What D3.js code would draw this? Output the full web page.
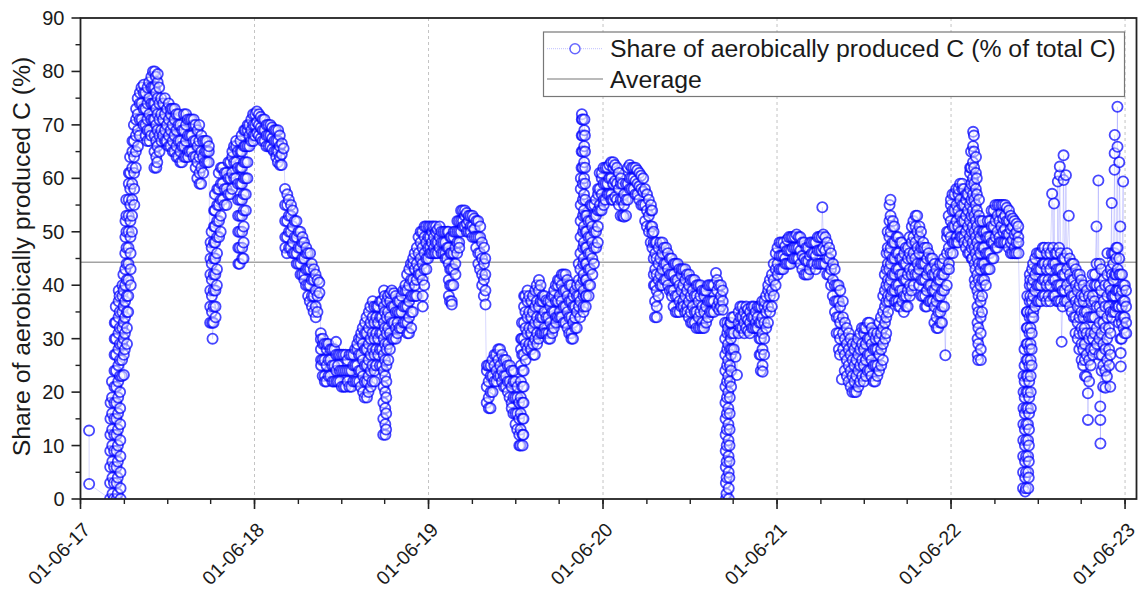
<!DOCTYPE html>
<html>
<head>
<meta charset="utf-8">
<script src="https://cdnjs.cloudflare.com/ajax/libs/d3/7.8.5/d3.min.js"></script>
<style>
  body { margin: 0; background: #fff; }
  text { font-family: "Liberation Sans", Arial, sans-serif; fill: #1a1a1a; }
</style>
</head>
<body>
<div id="chart"></div>
<script>
// days counted from 01-06-17; each entry = [day, readings of that day (%)]
const startDate = new Date(2017, 5, 1);
const endDate = new Date(2023, 5, 25);

const earlyPoints = [[18, [12.8, 2.8]]];

const season17 = [
  [62, [0,3,6,9,12,15,18]], [66, [22,19,16,13,10,7,4,1]], [70, [0,3,6,9,12,15,18,21,24,27,30,33]],
  [74, [36,33,30,27,24,21,18,15,12,9,6,3,0]], [78, [1,4,7,10,13,16,19,22,25,28,31,34,37,39]],
  [82, [38,35,32,29,26,23,20,17,14,11,8,5,2,0]], [87, [23,26,29,32,35,38,40]], [90, [42,39,36,33,30,27,23.2]],
  [93, [28,31,34,37,40,43,46,49,52]], [96, [56,53,50,47,44,41,38,35,32,29]], [100, [35,38,41,44,47,50,53,56,59,61]],
  [104, [64,61,58,55,52,49,46,43,40]], [108, [50,53,56,59,62,65,67]], [112, [70,67,64,61,58,55]],
  [116, [62,65,68,71,73]], [120, [75,72,69,66]], [124, [68,71,74,76]], [128, [77,74,71]],
  [132, [70,73,76,77.5]], [136, [76,73,70,68]], [140, [67,69,71,74,77]], [144, [78,75,72,69,67]],
  [148, [68,71,74,77,79]], [152, [80,77,74,71]], [155, [62,65,68,71,74,77,80]], [158, [79,76,73,70,67,64,62]],
  [161, [63,66,69,72,75,78,79.5]], [165, [77,74,71,68,65]], [169, [75,72,69,67]], [173, [68,71,74]],
  [177, [75,72,69,67]], [181, [67,70,73]], [185, [74,71,68,66]], [189, [66,69,72,73]], [193, [73,70,67,65]],
  [197, [65,68,71,73]], [201, [72,69,66,64]], [205, [64,67,70,72]], [209, [70,67,65,63]], [213, [63,66,69]],
  [217, [72,69,66,64]], [221, [64,67,70,72]], [225, [71,68,65,64]], [229, [65,68,71]], [233, [71,68,65]],
  [237, [64,67,70,71]], [241, [70,67,64,62]], [245, [60,63,66,69]], [249, [70,67,64,61,59]], [253, [59,62,65,68]],
  [257, [67,64,61]], [261, [63,65,67]], [265, [67,65,63]], [269, [63,65,66]],
  [272, [33,36,39,42,45,48]], [275, [50,47,44,41,38,35,33]], [277, [30]], [279, [33,36,39,42,45,48,51,54]],
  [282, [57,54,51,48,45,42,39,36,34]], [286, [40,43,46,49,52,55,58]], [290, [61,58,55,52,49]],
  [294, [50,53,56,59,62]], [298, [62,59,56]], [302, [55,58,61]], [306, [61,58,55]], [310, [57,60,63]],
  [314, [63,60,57]], [318, [58,61,64,65]], [322, [66,63,60]], [326, [60,63,66,67]],
  [330, [65,62,59,56,53,50,47,44]], [334, [44,47,50,53,56,59,62,65,67]], [338, [68,65,62,59,56,53,50,47,45]],
  [342, [45,48,51,54,57,60,63,66,69]], [346, [69,66,63,60,57,54]], [350, [60,63,66,69,70]],
  [354, [70,68,66]], [358, [67,69,71]], [362, [72,70,68,67]]
];

const season18 = [
  [366, [68,70,72]], [370, [72.5,70.5,68.5]], [374, [68,70,72]], [378, [71.5,69.5,67.5]], [382, [67,69,71]],
  [386, [71,69,67]], [390, [66,68,70]], [394, [70,68,66]], [398, [66,68,70]], [402, [69.5,67.5,65.5]],
  [406, [65,67,69]], [410, [69,67,65,64]], [414, [63,65,67,69]], [418, [68,66,64,62.5]], [422, [62.5,64.5,66.5]],
  [426, [65.6]],
  [429, [58,55,52,49,47]], [433, [46,49,52,55,57]], [437, [56,53,50,47]], [441, [47,50,53,55]],
  [445, [54,51,48,46]], [449, [46,49,52]], [453, [52,49,46,44]], [457, [44,47,50]], [461, [50,47,44,42]],
  [465, [42,45,48,49]], [469, [48,45,42,41]], [473, [40,43,46,47]], [477, [46,43,40,38]], [481, [37,40,43,46]],
  [485, [44,41,38,36]], [489, [35,38,41,43]], [493, [42,39,36,34]], [497, [35,38,41]], [501, [40.5,38.6]],
  [504, [31,29.9,28,26,25]], [508, [23,26,29,30]], [512, [29,26,23,22]], [516, [22,25,28,29]], [520, [29,26,23]],
  [524, [23,26,28]], [528, [28,25,22]], [532, [22,25,28]], [536, [29.4,27,24,22]], [540, [22,25,27]],
  [544, [27,24,22]], [548, [21,24,27]], [552, [27,24,21]], [556, [21,24,27]], [560, [26,24,22]],
  [564, [21,24,27]], [568, [27,24,21]], [572, [22,25,27]], [576, [28,25,22]], [580, [22,25,28,29]],
  [584, [30,27,24,22]], [588, [21,24,27,30,31]], [592, [32,29,26,23,20]], [596, [19,22,25,28,31,33]],
  [600, [34,31,28,25,22,19]], [604, [20,23,26,29,32,35]], [608, [36,33,30,27,24,21]], [612, [22,25,28,31,34,37]],
  [616, [36,33,30,27,24,22]], [620, [25,28,31,34,36]], [624, [36,33,30,27]], [628, [25,28,31,34,37]],
  [632, [37,34,31,28,25]], [635, [12,15,18,21,24,27,30,33,36,39]], [638, [38,35,32,29,26,23,20,17,14,12]],
  [641, [13,16,19,22,25,28,31,34,37]], [645, [38,35,32,29,26]], [649, [28,31,34,37,38.5]], [653, [39,36,33,30]],
  [657, [30,33,36,38.5]], [661, [38,35,32,30]], [665, [31,33,35,37]], [669, [37,34.9,32]], [673, [32,35,38]],
  [677, [39,36,33]], [681, [33,36,39,40]], [685, [42,39,36,33,31]], [689, [31,34,37,40,43]],
  [693, [44,41,38,35,32]], [697, [35,38,41,44,45]], [701, [46,43,40,38]], [705, [38,41,44,47]],
  [709, [49,46,43,42]], [713, [42,45,48,50]], [717, [50,47,44,41,38,36]], [721, [40,43,46,49,51]],
  [725, [51,48,45,43]], [729, [45,47,49,51]]
];

const season19 = [
  [733, [51,49,47,46]], [737, [46,48,50,51]], [741, [51,49,47,46]], [745, [46,48,50,51]], [749, [50.4,48,46]],
  [753, [47,49,51]], [757, [50,48,46]], [761, [46,48,50]], [765, [50,48,46,45]], [769, [45,47,50]],
  [772, [50,47,44,41,38]], [775, [37,40,43,46,49]], [778, [49,46,43,40,37,36.4]], [782, [40,43,46,49,50]],
  [786, [50,47,44,42]], [790, [46,48,50,52]], [794, [52,50,48,47]], [798, [50,52,54]], [802, [54,52,51]],
  [806, [51,53,54]], [810, [53.5,51.5,50]], [814, [50,52,53]], [818, [53,51,50]], [822, [49,51,53]],
  [826, [52.5,50.5,49]], [830, [47,49,52]], [834, [52,49,46,44]], [838, [43,46,49,51]], [842, [48,45,42,40]],
  [846, [38,41,44,47]], [849, [45,42,39,36.4]],
  [852, [18,21,24,25]], [856, [25,22,19,17]], [860, [17,20,23,25]], [864, [26,23,20]], [868, [22,25,27]],
  [872, [27,24,22]], [876, [23,26,28]], [880, [28,25,23]], [884, [22,24,27]], [888, [26,23,21]],
  [892, [21,23,26]], [896, [25,22,20]], [900, [19,22,25]], [904, [24,21,18,17]], [908, [16,19,22,24]],
  [912, [22,19,16,14]], [916, [13,16,19,21]], [920, [18,15,12,10]],
  [923, [10,13,16,19,22,25,28,30]], [926, [33,30,27,24,21,18,15,12,10]], [929, [12,15,18,21,24,27,30,33,36,38]],
  [933, [38,35,32,29,26]], [937, [28,31,34,37,39]], [941, [38,35,32,29]], [945, [28,31,34,37]],
  [949, [38,35,32,29,27]], [953, [27,30,33,36,39]], [957, [40,37,34,31,29]], [961, [30,33,36,39,41]],
  [965, [40,37,34,31]], [969, [31,34,37,38]], [973, [38,35,32,31]], [977, [31,34,37.2]], [981, [37,34,31,30]],
  [985, [30,33,36,37]], [989, [38,35,32,31]], [993, [32,35,38,39]], [997, [40,37,34,33]], [1001, [34,37,40,41]],
  [1005, [41,38,35,34]], [1009, [34,37,40,42]], [1013, [42,39,36,33]], [1017, [33,36,39,42]],
  [1021, [41,38,35,32]], [1025, [31,34,37,40]], [1029, [40,37,34,31,30]], [1033, [30,33,36,38]],
  [1037, [39,36,33.9,32]], [1041, [32,35,38,40]], [1045, [44,41,38,36]],
  [1048, [34,37,40,43,46,49,52,55,58,60]], [1051, [62,65,68,71,72]],
  [1053, [71,68,65,62,59,56,53,50,47,44,41,38,35]], [1055, [36,39,42,45,48,51,54,57,60,63,66,69,71]],
  [1058, [68,65,62,59,56,53,50,47,44,41,38,36]], [1061, [38,41,44,47,50,53]], [1065, [52,49,46,43,40,38]],
  [1069, [40,43,46,49,52,55]], [1073, [54.9,51,48,45,42]], [1077, [44,47,50,53,55]], [1081, [56,53,50,47]],
  [1085, [48,51,54,57,58]], [1089, [61,58,55,54]], [1093, [54,57,60,61]]
];

const season20 = [
  [1097, [62,59,56,55]], [1101, [56,59,62]], [1105, [62,59,57]], [1109, [57,60,62.5]], [1113, [63,60,57,56]],
  [1117, [56,59,62,63]], [1121, [62.5,59.5,56.5]], [1125, [56,59,62]], [1129, [61,58,55]], [1133, [53,56,59,60]],
  [1137, [59,56,53]], [1140, [52.8,55,57]], [1144, [59,56,53]], [1148, [56,59,62]], [1152, [62.5,60,58]],
  [1156, [58,60,62]], [1160, [62,60,58]], [1164, [57,59.5,62]], [1168, [61.5,59,57]], [1172, [56,58.5,61]],
  [1176, [60.5,58,55]], [1180, [55,57.5,60]], [1184, [58,55,52]], [1188, [51,54,57]], [1192, [56,53,50]],
  [1196, [48,51,54,55]], [1199, [54,51,49.7,47]],
  [1202, [50,48,45,42,40]], [1205, [34,37,40,43,46,48]], [1208, [48,45,42,39,36,34]], [1212, [38,41,44,47]],
  [1216, [48,45,42,40]], [1220, [40,43,46,48]], [1224, [47,44,41]], [1228, [41,44,47]], [1232, [46,43,40]],
  [1236, [39,42,45]], [1240, [45,42,39,38]], [1244, [36,39,42,44]], [1248, [44,41,38,35]], [1252, [35,38,41,44]],
  [1256, [43,40,37,35]], [1260, [36,39,42,43]], [1264, [43,40,37,36]], [1268, [35,38,41,43]],
  [1272, [42,39,36,35]], [1276, [34,37,40,42]], [1280, [41,38,35,33]], [1284, [33,36,39,41]],
  [1288, [41,38,35,33]], [1292, [32,35,38,40]], [1296, [40,37,34,32]], [1300, [32,35,38,40]],
  [1304, [39,36,33,32]], [1308, [32,35,38,39]], [1312, [39,36,33]], [1316, [34,37,40]], [1320, [40,37,35]],
  [1324, [35,37,40]], [1328, [40,37,35]], [1333, [42.3]], [1335, [36,39,41]], [1339, [40,37,35.4]],
  [1343, [36,38,40]], [1347, [39,37,35.4]],
  [1352, [33,30,27,24,21,18,15,12,9,6,3,0]], [1355, [1,4,7,10,13,16,19,22,25,28,31,33]],
  [1358, [32,29,26,23,20,17,14,11,8,5,2,0]], [1361, [4,7,10,13,16,19,22,25,28,31,33]],
  [1364, [33,30,27,24,21]], [1366, [28,31,34]], [1370, [34,31,28]], [1374, [26.6]], [1377, [23.2]],
  [1380, [31,33,35]], [1384, [36,34,32]], [1388, [32,34,36]], [1392, [35,33,31]], [1396, [32,34,36]],
  [1400, [35.5,33.5,31.5]], [1404, [31,33,35]], [1408, [36,34,32]], [1412, [32,34,36]], [1416, [35,33,32]],
  [1420, [32,34,36]], [1424, [36,33,30,27]], [1427, [24,27,30,33,36]], [1430, [37,34,31,28,25,23.8]],
  [1434, [27,30,33,36,37]], [1438, [38,35,32]], [1442, [33,36,39,40]], [1446, [41,38,35]],
  [1450, [36,39,42]], [1454, [44,41,38]], [1458, [40,43,46]]
];

const season21 = [
  [1462, [47,44,42]], [1466, [43,45.5,48]], [1470, [48,45.5,43]], [1474, [43,45.5,48]], [1478, [47.3,45,44]],
  [1482, [44,46.5,48.5]], [1486, [49,46.5,44]], [1490, [44,46.5,49]], [1494, [49,47,45]], [1498, [45,47,49]],
  [1502, [49.5,47,45]], [1506, [45,47,49]], [1510, [49,46.5,44]], [1514, [43,45.5,48]], [1518, [48,45,42]],
  [1522, [42,44.5,47]], [1526, [47,44.5,42]], [1530, [43,45.5,48]], [1534, [48,46,44]], [1538, [44,46,48]],
  [1542, [48,45.5,43]], [1546, [44,46.5,49]], [1550, [49,46.5,44]], [1554, [44,46.5,49]], [1556, [54.6]],
  [1558, [49.5,47,44]], [1562, [44,46.5,49]], [1566, [48,45,42]], [1570, [42,45,47]], [1574, [46,43,40]],
  [1578, [38,41,44]], [1582, [43,40,37,35]], [1586, [31,34,37,40]],
  [1590, [40,37,34,31,28]], [1593, [27,30,33,36,39]], [1597, [22.4]], [1599, [37,34,31,28]],
  [1603, [24,27,30,33]], [1607, [32,29,26,23]], [1611, [22,25,28,31]], [1615, [30,27,24,21]],
  [1619, [20,23,26,29]], [1623, [28,25,22,20]], [1627, [20,23,26,29]], [1631, [30,27,24,21]],
  [1635, [22,25,28,31]], [1639, [32,29,26,23]], [1643, [22,25,28,31,32]], [1647, [32,29,26,23]],
  [1651, [24,27,30,33]], [1655, [33,30,27,24]], [1659, [23,26,29,32]], [1663, [31,28,25,22]],
  [1667, [22,25,28,30]], [1671, [31,28,25,23]], [1675, [24,27,30,33]], [1679, [34,31,28,25]],
  [1683, [26,29,32,35,38]], [1687, [42,39,36,33,30]], [1690, [31,34,37,40,43,46]], [1693, [50,47,44,41,38,35]],
  [1696, [37,40,43,46,49,52,55]], [1699, [56,53,50,47,44,41,38]],
  [1703, [39,42,45,48,51,52]], [1707, [51,48,45,42,39,37]], [1711, [37,40,43,46,49]], [1715, [49,46,43,40,37,36]],
  [1719, [36,39,42,45,48]], [1723, [48,45,42,39,37]], [1727, [35,38,41,44,46]], [1731, [47,44,41,38,36]],
  [1735, [36,39,42,45,47]], [1739, [49,46,43,40,38]], [1743, [39,42,45,48,51]], [1747, [52,49,46,43,40]],
  [1751, [42,45,48,51,53]], [1755, [53,50,47,44,42]], [1759, [40,43,46,49,51]], [1763, [50,47,44,41,38]],
  [1767, [38,41,44,47,48]], [1771, [47,44,41,38,36]], [1775, [36,39,42,45,47]], [1779, [46,43,40,37]],
  [1783, [37,40,43,45]], [1787, [45,42,39,37]], [1791, [33,36,39,42,44]], [1795, [43,40,37,34,32]],
  [1799, [32,35,38,41,42]], [1803, [44,41,38,35,33]], [1807, [33,36,39,42,44]], [1811, [45,42,39,36]],
  [1814, [26.9]], [1817, [40,43,46,49,50]], [1821, [53,50,47,44,43]], [1825, [46,49,52,55,56]]
];

const season22 = [
  [1829, [57,54,51,48,46]], [1833, [48,51,54,57]], [1837, [58,55,52,49,48]], [1841, [48,51,54,57,58]],
  [1845, [59,56,53,50,49]], [1849, [49,52,55,58,59]], [1853, [58,55,52,49,48]], [1857, [47,50,53,56,57]],
  [1861, [57,54,51,48,46]], [1865, [46,49,52,55,58,61,62]], [1868, [65,62,59,56,53,50,47,45]],
  [1871, [45,48,51,54,57,60,63,66,68.7]], [1874, [68,65,62,59,56,53,50,47,44,41]],
  [1877, [40,43,46,49,52,55,58,61,64]], [1880, [60,57,54,51,48,45,42,39,36,33,30,27]],
  [1883, [26,29,32,35,38,41,44,47,50,53,56]], [1887, [52,49,46,43,40,37,34,31,28,26]],
  [1891, [35,38,41,44,47,50,52]], [1895, [50,47,44,41]], [1899, [40,43,46,49,50]], [1903, [52,49,46,43]],
  [1907, [43,46,49,52]], [1911, [54,51,48,45]], [1915, [45,48,51,54]], [1919, [55,52,49,47]],
  [1923, [47,50,53,55]], [1927, [55,52,49,48]], [1931, [48,51,53.5,55]], [1935, [55,52.5,50,48]],
  [1939, [48,50.5,53,55]], [1943, [54.5,52,49.5,48]], [1947, [47,49.5,52,54]], [1951, [53,50.5,48,46]],
  [1955, [46,48.5,51,52.5]], [1959, [52,49.5,47,46]], [1963, [46,48,50,51.5]], [1967, [51,49,48,46]],
  [1977, [2,5,8,11,14,17,20,23]], [1980, [28,25,22,19,16,13,10,7,4,1.4]],
  [1983, [2,5,8,11,14,17,20,23,26,29,32,35]], [1986, [38,35,32,29,26,23,20,17,14,11,8,5,2]],
  [1989, [4,7,10,13,16,19,22,25,28,31,34,37,40,42]], [1992, [41,38,35,32,29,26,23,20,17]],
  [1995, [25,28,31,34,37,40,43]], [1998, [44,41,38,35,33.9]],
  [2002, [36,39,42,45]], [2006, [46,43,40,37]], [2010, [37,40,43,46]], [2014, [46,43,40,37]],
  [2018, [38,41,44,47]], [2022, [47,44,41,38]], [2026, [37,40,43,46]], [2030, [47,44,41,38]],
  [2034, [37,40,43,46]], [2038, [57.1]], [2040, [47,44,41,38]], [2042, [55.3]], [2044, [38,41,44,46]],
  [2048, [46,43,40,37]], [2050, [59.4]], [2052, [37,40,43,47]], [2054, [60.6,62.2]], [2056, [46,43,40,37]],
  [2058, [29.4]], [2060, [36,39,42,45]], [2062, [64.3,59.7]], [2064, [45,42,39,37]], [2067, [60.6]],
  [2069, [37,40,43,46]], [2073, [53]], [2075, [45,42,39,36]], [2079, [35,38,41,44]], [2083, [44,41,38,34]],
  [2087, [31,34,37,40,43]], [2091, [42,39,36,33,30]], [2095, [28,31,34,37,40,42]],
  [2099, [41,38,35,32,29,26]], [2103, [25,28,31,34,37,40]], [2106, [38,35,32,29,26,23]],
  [2110, [22.9,27,31,35,39]], [2113, [19.8,14.8]], [2115, [38,34,30,26,22]], [2119, [25,28,31,34,37,40]],
  [2123, [42,38,34,30,27]], [2127, [28,31,34,37,40,42]], [2131, [51,44,40,36,32,29]], [2135, [59.6]],
  [2137, [27,30,33,36,40,44]], [2139, [17.3,14.8,10.4]], [2141, [43,39,35,31,27,24]],
  [2145, [21,25,29,33,37,41]], [2149, [40,36,32,28,24,20.8]], [2153, [22.9,26,30,34,38,42,46]],
  [2157, [40,36,32,28,25]], [2160, [21,27,31,35,39,43]], [2163, [55.4,46,42,38,34]], [2166, [35,38,41,44,46]],
  [2169, [61.6,64.7,68.1,46,42,38,35]], [2172, [36,39,42,45,47]], [2175, [73.4,65.9,47,43,39,36]],
  [2178, [33,36,39,42,45,63]], [2181, [51,42,38,34,30,27.3,24.8]], [2184, [30,33,36,39,42]],
  [2187, [59.4,40,37,34,32]], [2190, [31,34,37,40]], [2193, [39,36,33,31]]
];

const averageValue = 44.3;
const yearTickLabels = ["01-06-17", "01-06-18", "01-06-19", "01-06-20", "01-06-21", "01-06-22", "01-06-23"];
const yTicks = [0, 10, 20, 30, 40, 50, 60, 70, 80, 90];
const seriesName = "Share of aerobically produced C (% of total C)";
const avgName = "Average";
const yTitle = "Share of aerobically produced C (%)";

const width = 1141, height = 590;
const margin = { top: 18, right: 4.5, bottom: 91, left: 80.5 };
const innerW = width - margin.left - margin.right;
const innerH = height - margin.top - margin.bottom;

const svg = d3.select("#chart").append("svg")
  .attr("width", width)
  .attr("height", height);

const x = d3.scaleTime().domain([startDate, endDate]).range([margin.left, margin.left + innerW]);
const y = d3.scaleLinear().domain([0, 90]).range([margin.top + innerH, margin.top]);

// build points; readings of one day are a few hours apart
let points = [];
[earlyPoints, season17, season18, season19, season20, season21, season22].forEach(function (season) {
  season.forEach(function (d) {
    let day = d3.timeDay.offset(startDate, d[0]);
    d[1].forEach(function (v, k) {
      points.push({ t: d3.timeHour.offset(day, k * 4), v: v });
    });
  });
});

const parseTick = d3.timeParse("%d-%m-%y");
const majorDates = yearTickLabels.map(parseTick);
const minorDates = d3.timeMonth.range(startDate, endDate, 3);

svg.append("defs").append("clipPath").attr("id", "plotclip")
  .append("rect")
  .attr("x", margin.left).attr("y", margin.top)
  .attr("width", innerW).attr("height", innerH);

// vertical grid
svg.append("g").selectAll("line")
  .data(majorDates.slice(1))
  .enter().append("line")
  .attr("x1", d => x(d)).attr("x2", d => x(d))
  .attr("y1", margin.top).attr("y2", margin.top + innerH)
  .attr("stroke", "#c4c4c4")
  .attr("stroke-width", 1)
  .attr("stroke-dasharray", "3,3");

// average
svg.append("line")
  .attr("x1", margin.left).attr("x2", margin.left + innerW)
  .attr("y1", y(averageValue)).attr("y2", y(averageValue))
  .attr("stroke", "#a3a3a3")
  .attr("stroke-width", 1.6);

const plot = svg.append("g").attr("clip-path", "url(#plotclip)");

plot.append("path")
  .datum(points)
  .attr("fill", "none")
  .attr("stroke", "#0000ff")
  .attr("stroke-opacity", 0.2)
  .attr("stroke-width", 0.8)
  .attr("d", d3.line().x(d => x(d.t)).y(d => y(d.v)));

plot.selectAll("circle")
  .data(points)
  .enter().append("circle")
  .attr("cx", d => x(d.t))
  .attr("cy", d => y(d.v))
  .attr("r", 5.1)
  .attr("fill", "#fff")
  .attr("fill-opacity", 0.45)
  .attr("stroke", "#0000ff")
  .attr("stroke-opacity", 0.72)
  .attr("stroke-width", 1.8);

// frame
svg.append("rect")
  .attr("x", margin.left).attr("y", margin.top)
  .attr("width", innerW).attr("height", innerH)
  .attr("fill", "none")
  .attr("stroke", "#222")
  .attr("stroke-width", 1.8);

// y axis ticks
const yAxis = svg.append("g");
yAxis.selectAll(".ymaj")
  .data(yTicks)
  .enter().append("line")
  .attr("x1", margin.left - 9).attr("x2", margin.left)
  .attr("y1", d => y(d)).attr("y2", d => y(d))
  .attr("stroke", "#222").attr("stroke-width", 1.6);
yAxis.selectAll(".ymin")
  .data(d3.range(5, 90, 10))
  .enter().append("line")
  .attr("x1", margin.left - 5).attr("x2", margin.left)
  .attr("y1", d => y(d)).attr("y2", d => y(d))
  .attr("stroke", "#222").attr("stroke-width", 1.4);
yAxis.selectAll("text")
  .data(yTicks)
  .enter().append("text")
  .attr("x", margin.left - 16)
  .attr("y", d => y(d))
  .attr("dy", "0.35em")
  .attr("text-anchor", "end")
  .style("font-size", "20px")
  .text(d => d);

// x axis ticks
const xAxis = svg.append("g");
xAxis.selectAll(".xmin")
  .data(minorDates)
  .enter().append("line")
  .attr("x1", d => x(d)).attr("x2", d => x(d))
  .attr("y1", margin.top + innerH).attr("y2", margin.top + innerH + 5)
  .attr("stroke", "#222").attr("stroke-width", 1.4);
xAxis.selectAll(".xmaj")
  .data(majorDates)
  .enter().append("line")
  .attr("x1", d => x(d)).attr("x2", d => x(d))
  .attr("y1", margin.top + innerH).attr("y2", margin.top + innerH + 10)
  .attr("stroke", "#222").attr("stroke-width", 1.6);
xAxis.selectAll("text")
  .data(majorDates)
  .enter().append("text")
  .attr("text-anchor", "end")
  .attr("transform", d => "translate(" + (x(d) + 11) + "," + (margin.top + innerH + 32) + ") rotate(-45)")
  .style("font-size", "19.5px")
  .text((d, i) => yearTickLabels[i]);

// y title
svg.append("text")
  .attr("transform", "translate(30,256.5) rotate(-90)")
  .attr("text-anchor", "middle")
  .style("font-size", "24.8px")
  .text(yTitle);

// legend
const legend = svg.append("g");
legend.append("rect")
  .attr("x", 543.5).attr("y", 32)
  .attr("width", 581).attr("height", 64.5)
  .attr("fill", "#fff")
  .attr("stroke", "#777")
  .attr("stroke-width", 1.2);
legend.append("line")
  .attr("x1", 547).attr("x2", 602).attr("y1", 48.7).attr("y2", 48.7)
  .attr("stroke", "#0000ff").attr("stroke-opacity", 0.25)
  .attr("stroke-dasharray", "1,1");
legend.append("circle")
  .attr("cx", 575).attr("cy", 48.7).attr("r", 5)
  .attr("fill", "#fff")
  .attr("stroke", "#0000ff").attr("stroke-opacity", 0.6)
  .attr("stroke-width", 1.5);
legend.append("text")
  .attr("x", 610).attr("y", 57)
  .style("font-size", "24.8px")
  .text(seriesName);
legend.append("line")
  .attr("x1", 547).attr("x2", 603).attr("y1", 79).attr("y2", 79)
  .attr("stroke", "#a3a3a3").attr("stroke-width", 1.6);
legend.append("text")
  .attr("x", 610).attr("y", 88)
  .style("font-size", "24.8px")
  .text(avgName);
</script>
</body>
</html>
